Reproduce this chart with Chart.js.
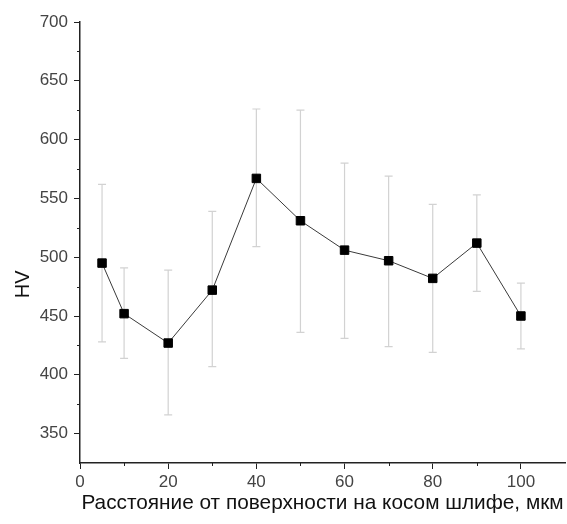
<!DOCTYPE html>
<html>
<head>
<meta charset="utf-8">
<script src="https://cdn.jsdelivr.net/npm/chart.js@4.4.0/dist/chart.umd.min.js"></script>
<style>
    html, body { margin: 0; padding: 0; background: #ffffff; overflow: hidden; }
    #wrap { position: absolute; left: 0; top: 0; width: 567px; height: 524px; }
</style>
</head>
<body>
<div id="wrap"><canvas id="hvChart" width="567" height="524"></canvas></div>
<script>
// distance from surface, um
const distances = [5, 10, 20, 30, 40, 50, 60, 70, 80, 90, 100];
// mean hardness HV
const hvMean = [495, 452, 427, 472, 567, 531, 506, 497, 482, 512, 450];
// error bar ends
const hvUpper = [562, 491, 489, 539, 626, 625, 580, 569, 545, 553, 478];
const hvLower = [428, 414, 366, 407, 509, 436, 431, 424, 419, 471, 422];
// minor tick positions
const minorX = [10, 30, 50, 70, 90];
const minorY = [375, 425, 475, 525, 575, 625, 675];
const yTitle = 'HV';
const xTitle = 'Расстояние от поверхности на косом шлифе, мкм';

const FONT = 'Liberation Sans, Arial, sans-serif';

const errorBars = {
    id: 'errorBars',
    beforeDatasetsDraw(chart) {
        const ctx = chart.ctx;
        const x = chart.scales.x;
        const y = chart.scales.y;
        ctx.save();
        ctx.strokeStyle = '#d2d2d2';
        ctx.lineWidth = 1.2;
        distances.forEach(function(d, i) {
            const px = x.getPixelForValue(d);
            const top = y.getPixelForValue(hvUpper[i]);
            const bot = y.getPixelForValue(hvLower[i]);
            ctx.beginPath();
            ctx.moveTo(px, top);
            ctx.lineTo(px, bot);
            ctx.moveTo(px - 4, top);
            ctx.lineTo(px + 4, top);
            ctx.moveTo(px - 4, bot);
            ctx.lineTo(px + 4, bot);
            ctx.stroke();
        });
        ctx.restore();
    }
};

// minor ticks + y title (placed a bit below the axis middle like the original)
const extras = {
    id: 'extras',
    afterDraw(chart) {
        const ctx = chart.ctx;
        const x = chart.scales.x;
        const y = chart.scales.y;
        ctx.save();
        ctx.strokeStyle = '#222222';
        ctx.lineWidth = 1;
        ctx.beginPath();
        minorX.forEach(function(v) {
            const px = Math.round(x.getPixelForValue(v)) + 0.5;
            ctx.moveTo(px, y.bottom);
            ctx.lineTo(px, y.bottom + 3);
        });
        minorY.forEach(function(v) {
            const py = Math.round(y.getPixelForValue(v)) + 0.5;
            ctx.moveTo(x.left, py);
            ctx.lineTo(x.left - 3, py);
        });
        ctx.stroke();

        ctx.translate(23, y.getPixelForValue(477));
        ctx.rotate(-Math.PI / 2);
        ctx.fillStyle = '#111111';
        ctx.font = '20px ' + FONT;
        ctx.textAlign = 'center';
        ctx.textBaseline = 'middle';
        ctx.fillText(yTitle, 0, 0);
        ctx.restore();
    }
};

new Chart(document.getElementById('hvChart'), {
    type: 'line',
    data: {
        datasets: [{
            label: yTitle,
            data: distances.map(function(d, i) { return { x: d, y: hvMean[i] }; }),
            borderColor: '#3a3a3a',
            borderWidth: 1,
            tension: 0,
            pointStyle: 'rect',
            pointRadius: 6,
            pointBackgroundColor: '#000000',
            pointBorderColor: '#000000',
            pointBorderWidth: 1
        }]
    },
    options: {
        responsive: false,
        animation: false,
        layout: {
            autoPadding: false,
            padding: { top: 22, right: 2, left: 0, bottom: 0 }
        },
        plugins: {
            legend: { display: false },
            tooltip: { enabled: false }
        },
        scales: {
            x: {
                type: 'linear',
                min: 0,
                max: 110,
                afterFit: function(scale) {
                    scale.height = 61;
                    scale.paddingLeft = 0;
                    scale.paddingRight = 0;
                },
                border: { display: true, color: '#222222', width: 1.5 },
                grid: { drawOnChartArea: false, drawTicks: true, tickLength: 6, color: '#222222' },
                ticks: {
                    stepSize: 20,
                    includeBounds: false,
                    padding: 3,
                    color: '#444444',
                    font: { family: FONT, size: 17 }
                },
                title: {
                    display: true,
                    text: xTitle,
                    color: '#111111',
                    font: { family: FONT, size: 20.8 },
                    padding: { top: 0, bottom: 8 }
                }
            },
            y: {
                min: 325,
                max: 700,
                afterFit: function(scale) {
                    scale.width = 80;
                    scale.paddingTop = 0;
                    scale.paddingBottom = 0;
                },
                border: { display: true, color: '#222222', width: 1.5 },
                grid: { drawOnChartArea: false, drawTicks: true, tickLength: 6, color: '#222222' },
                ticks: {
                    stepSize: 50,
                    includeBounds: false,
                    padding: 6,
                    color: '#444444',
                    font: { family: FONT, size: 17 }
                }
            }
        }
    },
    plugins: [errorBars, extras]
});
</script>
</body>
</html>
